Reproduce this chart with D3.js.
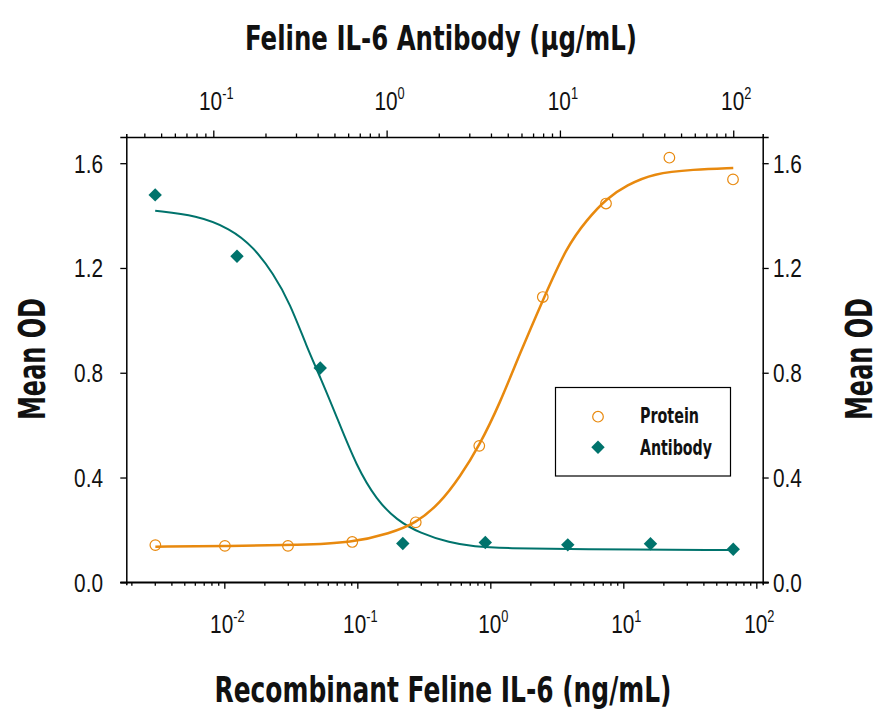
<!DOCTYPE html>
<html>
<head>
<meta charset="utf-8">
<script src="https://cdn.jsdelivr.net/npm/d3@7"></script>
<style>
  body { margin: 0; background: #fff; }
  text { font-family: "DejaVu Sans Condensed", "Liberation Sans", sans-serif; fill: #111; }
  text.tk { font-family: "Liberation Sans", Arial, sans-serif; }
</style>
</head>
<body>
<script>
const proteinConc = [0.00303, 0.0101, 0.0301, 0.0916, 0.275, 0.826, 2.48, 7.41, 22.2, 66.8];   // ng/mL
const proteinOD   = [0.142, 0.139, 0.139, 0.154, 0.229, 0.521, 1.089, 1.446, 1.621, 1.538];
const antibodyConc = [0.0462, 0.137, 0.414, 1.24, 3.71, 11.1, 33.3, 100];                     // ug/mL
const antibodyOD   = [1.479, 1.245, 0.818, 0.148, 0.152, 0.143, 0.147, 0.126];

// fitted curves
const proteinFitConc = [0.00303, 0.011, 0.0371, 0.0916, 0.176, 0.275, 0.419, 0.592, 0.826, 1.18, 1.67, 2.48, 3.75, 5.30, 7.50, 10.6, 16.8, 33.6, 67.1];
const proteinFitOD   = [0.136, 0.139, 0.142, 0.151, 0.187, 0.225, 0.302, 0.403, 0.521, 0.683, 0.874, 1.077, 1.281, 1.383, 1.466, 1.516, 1.561, 1.576, 1.582];
const antibodyFitConc = [0.0462, 0.0802, 0.125, 0.170, 0.222, 0.277, 0.346, 0.413, 0.515, 0.672, 0.877, 1.14, 1.56, 2.32, 3.17, 4.93, 11.9, 100];
const antibodyFitOD   = [1.418, 1.401, 1.351, 1.281, 1.179, 1.065, 0.899, 0.785, 0.632, 0.441, 0.314, 0.238, 0.187, 0.151, 0.136, 0.130, 0.126, 0.123];

const yTicks = [0, 0.4, 0.8, 1.2, 1.6];
const bottomDecades = [-2, -1, 0, 1, 2];
const topDecades = [-1, 0, 1, 2];
const seriesNames = ["Protein", "Antibody"];

const orange = "#e8890e", teal = "#00736c";
const W = 888, H = 715;
const L = 126.3, R = 762.7, T = 137, B = 582.3;

const svg = d3.select("body").append("svg").attr("width", W).attr("height", H);

const xBottom = d3.scaleLog().domain([Math.pow(10, -2.737), Math.pow(10, 2.048)]).range([L, R]);
const xTop = d3.scaleLog().domain([Math.pow(10, -1.502), Math.pow(10, 2.170)]).range([L, R]);
const y = d3.scaleLinear().domain([0, 1.7]).range([B, T]);

function isDecade(v) {
    const e = Math.log10(v);
    return Math.abs(e - Math.round(e)) < 1e-6;
}

// bottom axis
const gB = svg.append("g").attr("transform", `translate(0,${B})`)
    .call(d3.axisBottom(xBottom).ticks(30).tickFormat("").tickSizeOuter(0).tickSize(3));
gB.selectAll(".tick line").attr("y2", d => isDecade(d) ? 6.5 : 3.5);
gB.append("line").attr("x1", L - 6).attr("x2", R + 6).attr("stroke", "#000").attr("stroke-width", 1.5);

// top axis
const gT = svg.append("g").attr("transform", `translate(0,${T})`)
    .call(d3.axisTop(xTop).ticks(30).tickFormat("").tickSizeOuter(0).tickSize(3));
gT.selectAll(".tick line").attr("y2", d => isDecade(d) ? -6.5 : -3.5);

// left / right axes
svg.append("g").attr("transform", `translate(${L},0)`)
    .call(d3.axisLeft(y).tickValues(yTicks).tickFormat("").tickSizeOuter(0).tickSize(6));
svg.append("g").attr("transform", `translate(${R},0)`)
    .call(d3.axisRight(y).tickValues(yTicks).tickFormat("").tickSizeOuter(0).tickSize(6));

svg.selectAll(".domain").attr("stroke", "#000").attr("stroke-width", 1.5);
svg.selectAll(".tick line").attr("stroke", "#000").attr("stroke-width", 1.3);

// power of ten labels, squeezed to look condensed
function powerLabel(g, x, yy, e) {
    const t = g.append("text").attr("class", "tk")
        .attr("transform", `translate(${x},${yy}) scale(0.8,1)`)
        .attr("text-anchor", "middle").style("font-size", "26px");
    t.append("tspan").text("10");
    t.append("tspan").attr("dy", -11).style("font-size", "16px").text(e);
}
bottomDecades.forEach(e => powerLabel(svg, xBottom(Math.pow(10, e)) + 3, 633, e));
topDecades.forEach(e => powerLabel(svg, xTop(Math.pow(10, e)) + 3, 110, e));

// y tick labels
svg.append("g").selectAll("text").data(yTicks).join("text").attr("class", "tk")
    .attr("transform", d => `translate(103,${y(d) + 9.5}) scale(0.8,1)`).attr("text-anchor", "end")
    .style("font-size", "26px").text(d => d.toFixed(1));
svg.append("g").selectAll("text").data(yTicks).join("text").attr("class", "tk")
    .attr("transform", d => `translate(773,${y(d) + 9.5}) scale(0.8,1)`).attr("text-anchor", "start")
    .style("font-size", "26px").text(d => d.toFixed(1));

// titles
svg.append("text").attr("x", 441).attr("y", 50).attr("text-anchor", "middle")
    .style("font-size", "34px").style("font-weight", "bold")
    .attr("textLength", 392).attr("lengthAdjust", "spacingAndGlyphs")
    .text("Feline IL-6 Antibody (\u03bcg/mL)");
svg.append("text").attr("x", 443).attr("y", 702).attr("text-anchor", "middle")
    .style("font-size", "35px").style("font-weight", "bold")
    .attr("textLength", 457).attr("lengthAdjust", "spacingAndGlyphs")
    .text("Recombinant Feline IL-6 (ng/mL)");
svg.append("text").attr("transform", "translate(45,359) rotate(-90)").attr("text-anchor", "middle")
    .style("font-size", "38px").style("font-weight", "bold")
    .attr("textLength", 122).attr("lengthAdjust", "spacingAndGlyphs")
    .text("Mean OD");
svg.append("text").attr("transform", "translate(872,359) rotate(-90)").attr("text-anchor", "middle")
    .style("font-size", "38px").style("font-weight", "bold")
    .attr("textLength", 122).attr("lengthAdjust", "spacingAndGlyphs")
    .text("Mean OD");

// fitted curves
const lineB = d3.line().x(d => xBottom(d[0])).y(d => y(d[1])).curve(d3.curveBasis);
const lineT = d3.line().x(d => xTop(d[0])).y(d => y(d[1])).curve(d3.curveBasis);

svg.append("path").datum(d3.zip(antibodyFitConc, antibodyFitOD))
    .attr("d", lineT).attr("fill", "none").attr("stroke", teal).attr("stroke-width", 2);
svg.append("path").datum(d3.zip(proteinFitConc, proteinFitOD))
    .attr("d", lineB).attr("fill", "none").attr("stroke", orange).attr("stroke-width", 2.5);

// points
const diamond = d3.symbol().type(d3.symbolSquare).size(90);
svg.append("g").selectAll("path").data(d3.zip(antibodyConc, antibodyOD)).join("path")
    .attr("d", diamond)
    .attr("transform", d => `translate(${xTop(d[0])},${y(d[1])}) rotate(45)`)
    .attr("fill", teal);
svg.append("g").selectAll("circle").data(d3.zip(proteinConc, proteinOD)).join("circle")
    .attr("cx", d => xBottom(d[0])).attr("cy", d => y(d[1])).attr("r", 5.3)
    .attr("fill", "none").attr("stroke", orange).attr("stroke-width", 1.2);

// legend
const lg = svg.append("g");
lg.append("rect").attr("x", 555.5).attr("y", 387.5).attr("width", 175).attr("height", 88.5)
    .attr("fill", "#fff").attr("stroke", "#000").attr("stroke-width", 1.2);
lg.append("circle").attr("cx", 598).attr("cy", 416.7).attr("r", 5.3)
    .attr("fill", "none").attr("stroke", orange).attr("stroke-width", 1.2);
lg.append("path").attr("d", diamond).attr("transform", "translate(598,447.3) rotate(45)").attr("fill", teal);
lg.selectAll(".lt").data(seriesNames).join("text").attr("class", "lt")
    .attr("x", 640).attr("y", (d, i) => 423 + i * 32)
    .style("font-size", "21px").style("font-weight", "bold")
    .attr("textLength", (d, i) => i ? 72 : 59).attr("lengthAdjust", "spacingAndGlyphs")
    .text(d => d);
</script>
</body>
</html>
